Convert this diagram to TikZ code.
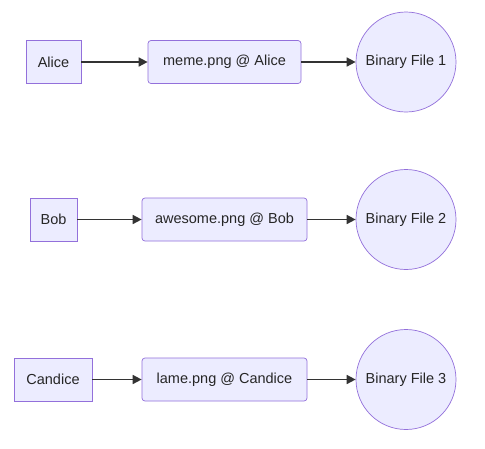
\documentclass[tikz,border=0pt]{standalone}
\usepackage{fontspec}
\setmainfont{Liberation Sans}
\usetikzlibrary{arrows.meta}
\definecolor{mfill}{HTML}{ECECFF}
\definecolor{mline}{HTML}{9370DB}
\definecolor{mlink}{HTML}{333333}
\begin{document}
\begin{tikzpicture}[x=1pt,y=-1pt,>={Triangle[length=9pt,width=9pt]}]
			\tikzset{user/.style={draw=mline,fill=mfill,line width=0.7pt,minimum height=43pt,inner sep=0pt,text=black!85,font=\fontsize{14.5pt}{17pt}\selectfont},
				tag/.style={user,rounded corners=3pt},
				blob/.style={user,circle,minimum size=100pt},
				link/.style={->,draw=mlink,line width=1.6pt}}
			\useasboundingbox[fill=white] (0,0) rectangle (485,448);
			\node[user,minimum width=55pt] (alice) at (53.5,62) {Alice};
			\node[tag,minimum width=153pt] (meme) at (224.5,62) {meme.png @ Alice};
			\node[blob] (bin1) at (406,62) {Binary File 1};
			\node[user,minimum width=47pt] (bob) at (53.5,219.5) {Bob};
			\node[tag,minimum width=165pt] (awesome) at (224.5,219.5) {awesome.png @ Bob};
			\node[blob] (bin2) at (406,219.5) {Binary File 2};
			\node[user,minimum width=78pt] (candice) at (53,379.5) {Candice};
			\node[tag,minimum width=165pt] (lame) at (224.5,379.5) {lame.png @ Candice};
			\node[blob] (bin3) at (406,379.5) {Binary File 3};
			\draw[link] (alice)--(meme);
			\draw[link] (meme)--(bin1);
			\draw[link] (bob)--(awesome);
			\draw[link] (awesome)--(bin2);
			\draw[link] (candice)--(lame);
			\draw[link] (lame)--(bin3);
		\end{tikzpicture}
\end{document}
